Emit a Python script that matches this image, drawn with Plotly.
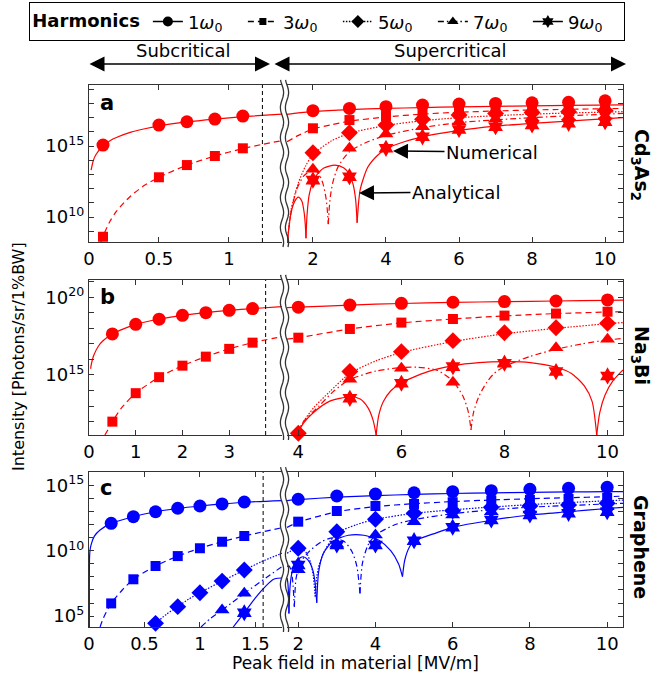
import numpy as np
import plotly.graph_objects as go

# ---------------- DATA (log10 of intensity, Photons/sr/1%BW) ----------------
# ---- Panel a : Cd3As2 ----
A_L_X = [0.1, 0.5, 0.7, 0.9, 1.1]
A1_L = [15.07, 16.48, 16.71, 16.90, 17.11]
A3_L = [8.61, 12.80, 13.66, 14.30, 14.84]
A_R_X = [2, 3, 4, 5, 6, 7, 8, 9, 10]
A1_R = [17.49, 17.65, 17.77, 17.89, 17.96, 18.00, 18.05, 18.08, 18.19]
A3_R = [16.25, 16.83, 17.11, 17.35, 17.54, 17.65, 17.70, 17.75, 17.82]
A5_R = [14.53, 15.94, 16.48, 16.88, 17.18, 17.30, 17.37, 17.42, 17.50]
A7_R = [13.36, 14.84, 15.85, 16.36, 16.71, 16.90, 17.00, 17.05, 17.10]
A9_R = [12.60, 12.84, 14.84, 15.65, 16.17, 16.36, 16.48, 16.60, 16.71]
# analytical curves (None separates lobes at zeros)
A1_L_FX = [0.015, 0.03, 0.05, 0.1, 0.15, 0.2, 0.3, 0.4, 0.5, 0.7, 0.9, 1.1, 1.38]
A1_L_FY = [13.3, 13.95, 14.4, 15.0, 15.38, 15.62, 15.98, 16.22, 16.42, 16.7, 16.9, 17.07, 17.25]
A3_L_FX = [0.085, 0.1, 0.15, 0.2, 0.3, 0.4, 0.5, 0.7, 0.9, 1.1, 1.24, 1.38]
A3_L_FY = [8.24, 8.65, 9.7, 10.45, 11.5, 12.25, 12.8, 13.65, 14.3, 14.82, 15.12, 15.38]
A1_R_FX = [1.29, 1.6, 2, 3, 4, 5, 6, 7, 8, 9, 10.49]
A1_R_FY = [17.23, 17.33, 17.43, 17.57, 17.65, 17.71, 17.76, 17.80, 17.83, 17.86, 17.90]
A3_R_FX = [1.29, 1.6, 2, 2.5, 3, 4, 5, 6, 7, 8, 10.49]
A3_R_FY = [15.3, 15.75, 16.2, 16.5, 16.75, 17.05, 17.25, 17.38, 17.47, 17.54, 17.65]
A5_R_FX = [1.3, 1.4, 1.6, 1.8, 2, 2.5, 3, 4, 5, 6, 8, 10.49]
A5_R_FY = [8.24, 10.5, 12.4, 13.6, 14.4, 15.35, 15.9, 16.45, 16.78, 17.0, 17.25, 17.42]
A7_R_FX = [1.3, 1.4, 1.55, 1.75, 2.0, 2.15, 2.28, 2.36, 2.40, 2.42, None,
           2.42, 2.44, 2.48, 2.55, 2.7, 3, 3.5, 4, 5, 6, 8, 10.49]
A7_R_FY = [8.24, 10.3, 11.9, 12.9, 13.3, 13.1, 12.3, 11.3, 10.3, 9.5, None,
           9.5, 10.4, 11.5, 12.5, 13.6, 14.6, 15.3, 15.75, 16.3, 16.65, 17.0, 17.3]
A9_R_FX = [1.3, 1.4, 1.5, 1.6, 1.7, 1.76, 1.79, 1.81, None,
           1.81, 1.84, 1.9, 2.0, 2.1, 2.3, 2.6, 2.85, 3.0, 3.1, 3.17, 3.21, None,
           3.21, 3.25, 3.3, 3.5, 3.75, 4, 4.5, 5, 6, 7, 8, 10.49]
A9_R_FY = [8.24, 10.3, 11.1, 11.4, 11.1, 10.3, 9.5, 8.5, None,
           8.5, 10.2, 11.6, 12.5, 12.95, 13.45, 13.66, 13.45, 13.0, 12.3, 11.2, 9.6, None,
           9.6, 11.0, 12.0, 13.5, 14.3, 14.8, 15.3, 15.65, 16.1, 16.4, 16.6, 17.0]

# ---- Panel b : Na3Bi ----
B_L_X = [0.5, 1, 1.5, 2, 2.5, 3, 3.5]
B1_L = [17.64, 18.26, 18.59, 18.84, 19.01, 19.16, 19.27]
B3_L = [12.0, 13.83, 14.86, 15.6, 16.18, 16.68, 17.08]
B_R_X = [4, 5, 6, 7, 8, 9, 10]
B1_R = [19.36, 19.5, 19.61, 19.68, 19.72, 19.76, 19.83]
B3_R = [17.4, 17.96, 18.37, 18.6, 18.82, 18.95, 19.07]
B5_R = [11.25, 15.22, 16.5, 17.21, 17.72, 18.04, 18.33]
B79_R_X = [5, 6, 7, 8, 9, 10]
B7_R = [14.73, 15.43, 14.53, 15.76, 16.76, 17.3]
B9_R = [13.5, 14.47, 15.54, 15.76, 15.22, 14.94]
B1_L_FX = [0.035, 0.05, 0.1, 0.2, 0.3, 0.5, 1, 1.5, 2, 2.5, 3, 3.5, 4.13]
B1_L_FY = [15.4, 15.7, 16.25, 16.85, 17.2, 17.64, 18.26, 18.59, 18.84, 19.01, 19.16, 19.27, 19.4]
B3_L_FX = [0.34, 0.4, 0.5, 0.7, 1, 1.5, 2, 2.5, 3, 3.5, 4.13]
B3_L_FY = [11.14, 11.45, 12.0, 12.9, 13.83, 14.86, 15.6, 16.18, 16.68, 17.08, 17.47]
B1_R_FX = [3.78, 4, 5, 6, 7, 8, 9, 10, 10.3]
B1_R_FY = [19.33, 19.36, 19.5, 19.6, 19.67, 19.72, 19.76, 19.8, 19.82]
B3_R_FX = [3.78, 4, 5, 6, 7, 8, 9, 10, 10.3]
B3_R_FY = [17.3, 17.4, 17.96, 18.35, 18.6, 18.8, 18.95, 19.05, 19.08]
B5_R_FX = [3.97, 4.1, 4.3, 4.6, 5, 5.5, 6, 7, 8, 9, 10, 10.3]
B5_R_FY = [11.14, 12.0, 12.9, 13.9, 15.1, 15.9, 16.45, 17.15, 17.65, 18.0, 18.3, 18.37]
B7_R_FX = [3.97, 4.1, 4.4, 4.7, 5, 5.5, 6, 6.3, 6.7, 7.0, 7.2, 7.3, 7.35, None,
           7.35, 7.4, 7.5, 7.65, 7.8, 8, 8.5, 9, 9.5, 10, 10.3]
B7_R_FY = [11.14, 12.0, 13.0, 14.0, 14.7, 15.25, 15.48, 15.5, 15.3, 14.6, 13.6, 12.6, 11.47, None,
           11.47, 12.6, 13.6, 14.5, 15.1, 15.55, 16.2, 16.65, 17.0, 17.25, 17.35]
B9_R_FX = [3.97, 4.1, 4.3, 4.6, 5, 5.2, 5.35, 5.45, 5.51, None,
           5.51, 5.56, 5.65, 5.8, 6, 6.5, 7, 7.5, 8, 8.5, 9, 9.3, 9.55, 9.7, 9.79, None,
           9.79, 9.85, 9.95, 10.1, 10.3]
B9_R_FY = [11.14, 11.9, 12.6, 13.3, 13.6, 13.45, 12.9, 12.1, 11.14, None,
           11.14, 12.4, 13.3, 14.0, 14.5, 15.2, 15.6, 15.8, 15.86, 15.8, 15.5, 15.1, 14.3, 13.3, 11.14, None,
           11.14, 12.6, 13.7, 14.6, 15.32]

# ---- Panel c : Graphene ----
C_L_X = [0.2, 0.4, 0.6, 0.8, 1.0, 1.2, 1.4]
C1_L = [12.11, 12.62, 13.0, 13.27, 13.44, 13.6, 13.75]
C3_L = [5.97, 7.82, 8.84, 9.6, 10.2, 10.7, 11.14]
C5_L_X = [0.6, 0.8, 1.0, 1.2, 1.4]
C5_L = [4.44, 5.72, 6.79, 7.68, 8.53]
C7_L_X = [1.2, 1.4]
C7_L = [5.46, 6.74]
C9_L_X = [1.4]
C9_L = [5.25]
C_R_X = [2, 3, 4, 5, 6, 7, 8, 9, 10]
C1_R = [13.96, 14.21, 14.36, 14.46, 14.54, 14.62, 14.72, 14.8, 14.88]
C3_R = [12.24, 13.06, 13.44, 13.6, 13.73, 13.85, 13.9, 13.98, 14.08]
C5_R = [10.2, 11.47, 12.42, 12.88, 13.08, 13.34, 13.44, 13.52, 13.65]
C7_R = [8.55, 10.5, 11.22, 12.24, 12.75, 13.0, 13.14, 13.27, 13.39]
C9_R = [8.91, 10.45, 10.45, 10.78, 11.81, 12.37, 12.75, 12.88, 13.0]
C1_L_FX = [0.003, 0.005, 0.01, 0.02, 0.05, 0.1, 0.2, 0.4, 0.6, 0.8, 1.0, 1.2, 1.4, 1.74]
C1_L_FY = [4.16, 9.5, 10.1, 10.5, 11.15, 11.6, 12.11, 12.62, 13.0, 13.25, 13.44, 13.6, 13.73, 13.86]
C3_L_FX = [0.1, 0.13, 0.2, 0.3, 0.4, 0.6, 0.8, 1.0, 1.2, 1.4, 1.74]
C3_L_FY = [4.16, 4.85, 5.97, 7.0, 7.82, 8.84, 9.6, 10.2, 10.7, 11.14, 11.78]
C5_L_FX = [0.56, 0.6, 0.7, 0.8, 0.9, 1.0, 1.2, 1.4, 1.55, 1.74]
C5_L_FY = [4.16, 4.44, 5.15, 5.72, 6.3, 6.79, 7.68, 8.53, 9.15, 9.82]
C7_L_FX = [1.01, 1.1, 1.2, 1.3, 1.4, 1.5, 1.6, 1.74]
C7_L_FY = [4.16, 4.85, 5.46, 6.1, 6.74, 7.35, 7.95, 8.8]
C9_L_FX = [1.3, 1.35, 1.4, 1.5, 1.6, 1.66, 1.7, 1.74]
C9_L_FY = [4.16, 4.7, 5.25, 6.4, 7.35, 7.8, 7.9, 7.92]
C1_R_FX = [1.71, 2, 3, 4, 5, 6, 7, 8, 9, 10, 10.41]
C1_R_FY = [13.86, 13.93, 14.12, 14.24, 14.33, 14.4, 14.45, 14.49, 14.52, 14.54, 14.55]
C3_R_FX = [1.71, 2, 3, 4, 5, 6, 7, 8, 9, 10, 10.41]
C3_R_FY = [11.8, 12.2, 13.0, 13.4, 13.62, 13.78, 13.9, 14.0, 14.08, 14.15, 14.2]
C5_R_FX = [1.71, 1.85, 2.0, 2.1, 2.22, 2.32, 2.39, 2.44, None,
           2.44, 2.48, 2.55, 2.7, 3.0, 3.5, 4.0, 5, 6, 8, 10.41]
C5_R_FY = [9.82, 10.05, 10.2, 10.15, 9.8, 9.1, 8.1, 6.5, None,
           6.5, 8.0, 9.0, 10.1, 11.35, 12.0, 12.42, 12.88, 13.15, 13.55, 13.9]
C7_R_FX = [1.71, 1.76, 1.82, 1.86, 1.9, None,
           1.9, 1.94, 2.0, 2.1, 2.3, 2.6, 2.9, 3.2, 3.4, 3.52, 3.6, None,
           3.6, 3.66, 3.8, 4.0, 4.5, 5, 6, 7, 8, 10.41]
C7_R_FY = [8.8, 8.85, 8.5, 7.6, 5.72, None,
           5.72, 7.8, 8.6, 9.3, 10.0, 10.7, 11.0, 10.7, 9.9, 8.8, 6.74, None,
           6.74, 9.0, 10.4, 11.2, 12.0, 12.4, 12.85, 13.15, 13.35, 13.65]
C9_R_FX = [1.71, 1.73, 1.75, 1.76, None,
           1.76, 1.79, 1.85, 1.95, 2.13, 2.28, 2.38, 2.44, 2.48, None,
           2.48, 2.53, 2.65, 2.9, 3.3, 3.7, 4.1, 4.4, 4.6, 4.7, None,
           4.7, 4.76, 4.88, 5.0, 5.5, 6, 7, 8, 9, 10, 10.41]
C9_R_FY = [7.92, 7.6, 6.6, 5.2, None,
           5.2, 7.3, 8.5, 9.25, 9.55, 9.2, 8.5, 7.5, 6.02, None,
           6.02, 8.4, 9.8, 10.75, 11.2, 11.2, 10.8, 10.0, 9.0, 8.02, None,
           8.02, 9.3, 10.3, 10.75, 11.3, 11.8, 12.35, 12.75, 13.0, 13.25, 13.34]

CRITICAL_FIELD = [1.24, 3.78, 1.57]   # dashed lines (sub/supercritical boundary)
HARM_LABELS = ["1", "3", "5", "7", "9"]

# ---------------- STYLE / LAYOUT ----------------
W, H = 653, 677
ML, MR, MT, MB = 89, 30, 85, 50
PW, PH = W - ML - MR, H - MT - MB
def px(x):
    return (x - ML) / PW
def py(y):
    return (MT + PH - y) / PH

FONT = "DejaVu Sans"
AX = "#333333"
RED, BLUE = "#ff0000", "#0000ff"
DASH = {"1": "solid", "3": "6px,4px", "5": "1.5px,1.5px", "7": "6px,3px,1.5px,3px", "9": "solid"}
SYM = {"1": "circle", "3": "square", "5": "diamond", "7": "triangle-up", "9": "hexagram"}
MSZ = {"1": 13, "3": 10, "5": 13, "7": 13, "9": 13}

fig = go.Figure()

def lg(v):
    return [None if t is None else float(10.0 ** t) for t in v]

def curve(x, y, h, ax, color):
    fig.add_trace(go.Scatter(x=x, y=lg(y), mode="lines", xaxis="x" + ax, yaxis="y" + ax,
                             line=dict(color=color, width=1.2, dash=DASH[h], shape="spline", smoothing=0.7),
                             connectgaps=False, showlegend=False, hoverinfo="skip"))

def points(x, y, h, ax, color):
    fig.add_trace(go.Scatter(x=x, y=lg(y), mode="markers", xaxis="x" + ax, yaxis="y" + ax,
                             marker=dict(symbol=SYM[h], size=MSZ[h], color=color, line=dict(width=0)),
                             cliponaxis=False, showlegend=False))

# panel a
curve(A1_L_FX, A1_L_FY, "1", "", RED); curve(A3_L_FX, A3_L_FY, "3", "", RED)
points(A_L_X, A1_L, "1", "", RED); points(A_L_X, A3_L, "3", "", RED)
for h, fx, fy in [("1", A1_R_FX, A1_R_FY), ("3", A3_R_FX, A3_R_FY), ("5", A5_R_FX, A5_R_FY),
                  ("7", A7_R_FX, A7_R_FY), ("9", A9_R_FX, A9_R_FY)]:
    curve(fx, fy, h, "2", RED)
for h, v in [("1", A1_R), ("3", A3_R), ("5", A5_R), ("7", A7_R), ("9", A9_R)]:
    points(A_R_X, v, h, "2", RED)
# panel b
curve(B1_L_FX, B1_L_FY, "1", "3", RED); curve(B3_L_FX, B3_L_FY, "3", "3", RED)
points(B_L_X, B1_L, "1", "3", RED); points(B_L_X, B3_L, "3", "3", RED)
for h, fx, fy in [("1", B1_R_FX, B1_R_FY), ("3", B3_R_FX, B3_R_FY), ("5", B5_R_FX, B5_R_FY),
                  ("7", B7_R_FX, B7_R_FY), ("9", B9_R_FX, B9_R_FY)]:
    curve(fx, fy, h, "4", RED)
for h, xx, v in [("1", B_R_X, B1_R), ("3", B_R_X, B3_R), ("5", B_R_X, B5_R),
                 ("7", B79_R_X, B7_R), ("9", B79_R_X, B9_R)]:
    points(xx, v, h, "4", RED)
# panel c
for h, fx, fy in [("1", C1_L_FX, C1_L_FY), ("3", C3_L_FX, C3_L_FY), ("5", C5_L_FX, C5_L_FY),
                  ("7", C7_L_FX, C7_L_FY), ("9", C9_L_FX, C9_L_FY)]:
    curve(fx, fy, h, "5", BLUE)
for h, xx, v in [("1", C_L_X, C1_L), ("3", C_L_X, C3_L), ("5", C5_L_X, C5_L),
                 ("7", C7_L_X, C7_L), ("9", C9_L_X, C9_L)]:
    points(xx, v, h, "5", BLUE)
for h, fx, fy in [("1", C1_R_FX, C1_R_FY), ("3", C3_R_FX, C3_R_FY), ("5", C5_R_FX, C5_R_FY),
                  ("7", C7_R_FX, C7_R_FY), ("9", C9_R_FX, C9_R_FY)]:
    curve(fx, fy, h, "6", BLUE)
for h, v in [("1", C1_R), ("3", C3_R), ("5", C5_R), ("7", C7_R), ("9", C9_R)]:
    points(C_R_X, v, h, "6", BLUE)

# legend-only entries (black)
for h in HARM_LABELS:
    fig.add_trace(go.Scatter(x=[None], y=[None], mode="lines+markers", xaxis="x", yaxis="y",
                             name=f"{h}<i>ω</i><sub>0</sub>",
                             line=dict(color="black", width=1.3, dash=DASH[h]),
                             marker=dict(symbol=SYM[h], size=MSZ[h] - 3, color="black")))

# axes
XL = [0, px(282)]
XR = [px(287), 1]
YD = [[py(242), py(85)], [py(435), py(280)], [py(627), py(472)]]
XRANGE = [([0, 1.38], [1.29, 10.49]), ([0, 4.13], [3.78, 10.3]), ([0, 1.74], [1.71, 10.41])]
XTICKS = [([0, 0.5, 1], [2, 4, 6, 8, 10]), ([0, 1, 2, 3], [4, 6, 8, 10]), ([0, 0.5, 1, 1.5], [2, 4, 6, 8, 10])]
YRANGE = [[8.24, 19.3], [11.14, 21.11], [4.16, 16.05]]
YMAJ = [[10, 15], [15, 20], [5, 10, 15]]

axis_common = dict(showline=True, linecolor=AX, linewidth=1.4, ticks="inside", ticklen=5,
                   tickwidth=1.2, tickcolor=AX, showgrid=False, zeroline=False, automargin=False,
                   tickfont=dict(family=FONT, size=18, color="black"))
lay = {}
for i in range(3):
    nL, nR = 2 * i + 1, 2 * i + 2
    kL = "" if nL == 1 else str(nL)
    kR = str(nR)
    lo, hi = YRANGE[i]
    dec = list(range(int(np.ceil(lo)), int(np.floor(hi)) + 1))
    minor_tv = [float(10.0 ** d) for d in dec if d not in YMAJ[i]]
    major_tv = [float(10.0 ** d) for d in YMAJ[i]]
    major_tt = [f"10<sup>{d}</sup>" for d in YMAJ[i]]
    minor = dict(tickvals=minor_tv, ticks="inside", ticklen=5, tickwidth=1.2, tickcolor=AX, showgrid=False)
    lay["xaxis" + kL] = dict(axis_common, domain=XL, range=XRANGE[i][0], anchor="y" + kL,
                             mirror="ticks", tickvals=XTICKS[i][0])
    lay["xaxis" + kR] = dict(axis_common, domain=XR, range=XRANGE[i][1], anchor="y" + kR,
                             mirror="ticks", tickvals=XTICKS[i][1])
    lay["yaxis" + kL] = dict(axis_common, domain=YD[i], type="log", range=YRANGE[i], anchor="x" + kL,
                             tickvals=major_tv, ticktext=major_tt, side="left", minor=minor)
    lay["yaxis" + kR] = dict(axis_common, domain=YD[i], type="log", range=YRANGE[i], anchor="x" + kR,
                             tickvals=major_tv, showticklabels=False, side="right", minor=minor)
fig.update_layout(**lay)

shapes = []
# critical field dashed lines
for i, xc in enumerate(CRITICAL_FIELD):
    kL = "" if i == 0 else str(2 * i + 1)
    shapes.append(dict(type="line", xref="x" + kL, yref="y" + kL + " domain", x0=xc, x1=xc, y0=0, y1=1,
                       line=dict(color="black", width=1, dash="4px,3px")))
# axis break wavy lines
for (top, bot) in [(85, 242), (280, 435), (472, 627)]:
    for x0 in (282, 287):
        ys = np.arange(top - 5, bot + 6, 1.0)
        pts = [(px(x0 + 1.6 * np.sin(2 * np.pi * (y - top) / 30.0)), py(y)) for y in ys]
        path = "M " + " L ".join(f"{a:.5f},{b:.5f}" for a, b in pts)
        shapes.append(dict(type="path", xref="paper", yref="paper", path=path,
                           line=dict(color=AX, width=1.3)))
fig.update_layout(shapes=shapes)

ann = []
def text(x, y, s, size=18, bold=False, angle=0, xanchor="center"):
    ann.append(dict(x=px(x), y=py(y), xref="paper", yref="paper", text=f"<b>{s}</b>" if bold else s,
                    showarrow=False, textangle=angle, xanchor=xanchor, yanchor="middle",
                    font=dict(family=FONT, size=size, color="black")))
text(107, 103, "a", 21, True)
text(107, 297, "b", 21, True)
text(106, 488, "c", 21, True)
text(183, 50, "Subcritical", 18)
text(450, 50, "Supercritical", 18)
text(641, 165, "Cd<sub>3</sub>As<sub>2</sub>", 19, True, 90)
text(641, 355, "Na<sub>3</sub>Bi", 19, True, 90)
text(641, 547, "Graphene", 19, True, 90)
text(18, 357, "Intensity [Photons/sr/1%BW]", 16, False, -90)
text(355, 663, "Peak field in material [MV/m]", 17)
# arrows
for (hx, hy, tx) in [(270, 64, 88), (626, 64, 273)]:
    ann.append(dict(x=px(hx), y=py(hy), xref="paper", yref="paper", text="", showarrow=True,
                    ax=tx - hx, ay=0, arrowside="end+start", arrowhead=2, arrowsize=2.0,
                    arrowwidth=1.5, arrowcolor="black"))
for (s, tx, ty, hx, hy) in [("Numerical", 492, 152, 393, 151), ("Analytical", 456, 192, 359, 193)]:
    ann.append(dict(x=px(hx), y=py(hy), xref="paper", yref="paper", text=s, showarrow=True,
                    ax=tx - hx, ay=ty - hy, arrowhead=2, arrowsize=2.0, arrowwidth=1.5,
                    arrowcolor="black", font=dict(family=FONT, size=18, color="black")))
fig.update_layout(annotations=ann)

fig.update_layout(
    width=W, height=H, autosize=False,
    margin=dict(l=ML, r=MR, t=MT, b=MB, autoexpand=False),
    paper_bgcolor="white", plot_bgcolor="white",
    font=dict(family=FONT, size=18, color="black"),
    showlegend=True,
    legend=dict(orientation="h", x=px(327), xanchor="center", y=py(2), yanchor="top",
                title=dict(text="<b>Harmonics</b>", side="left", font=dict(family=FONT, size=18)),
                font=dict(family=FONT, size=18, color="black"),
                bordercolor="black", borderwidth=1.3, bgcolor="white",
                itemwidth=30, tracegroupgap=0, entrywidth=50, entrywidthmode="pixels"),
)
fig.write_html("out.html")
